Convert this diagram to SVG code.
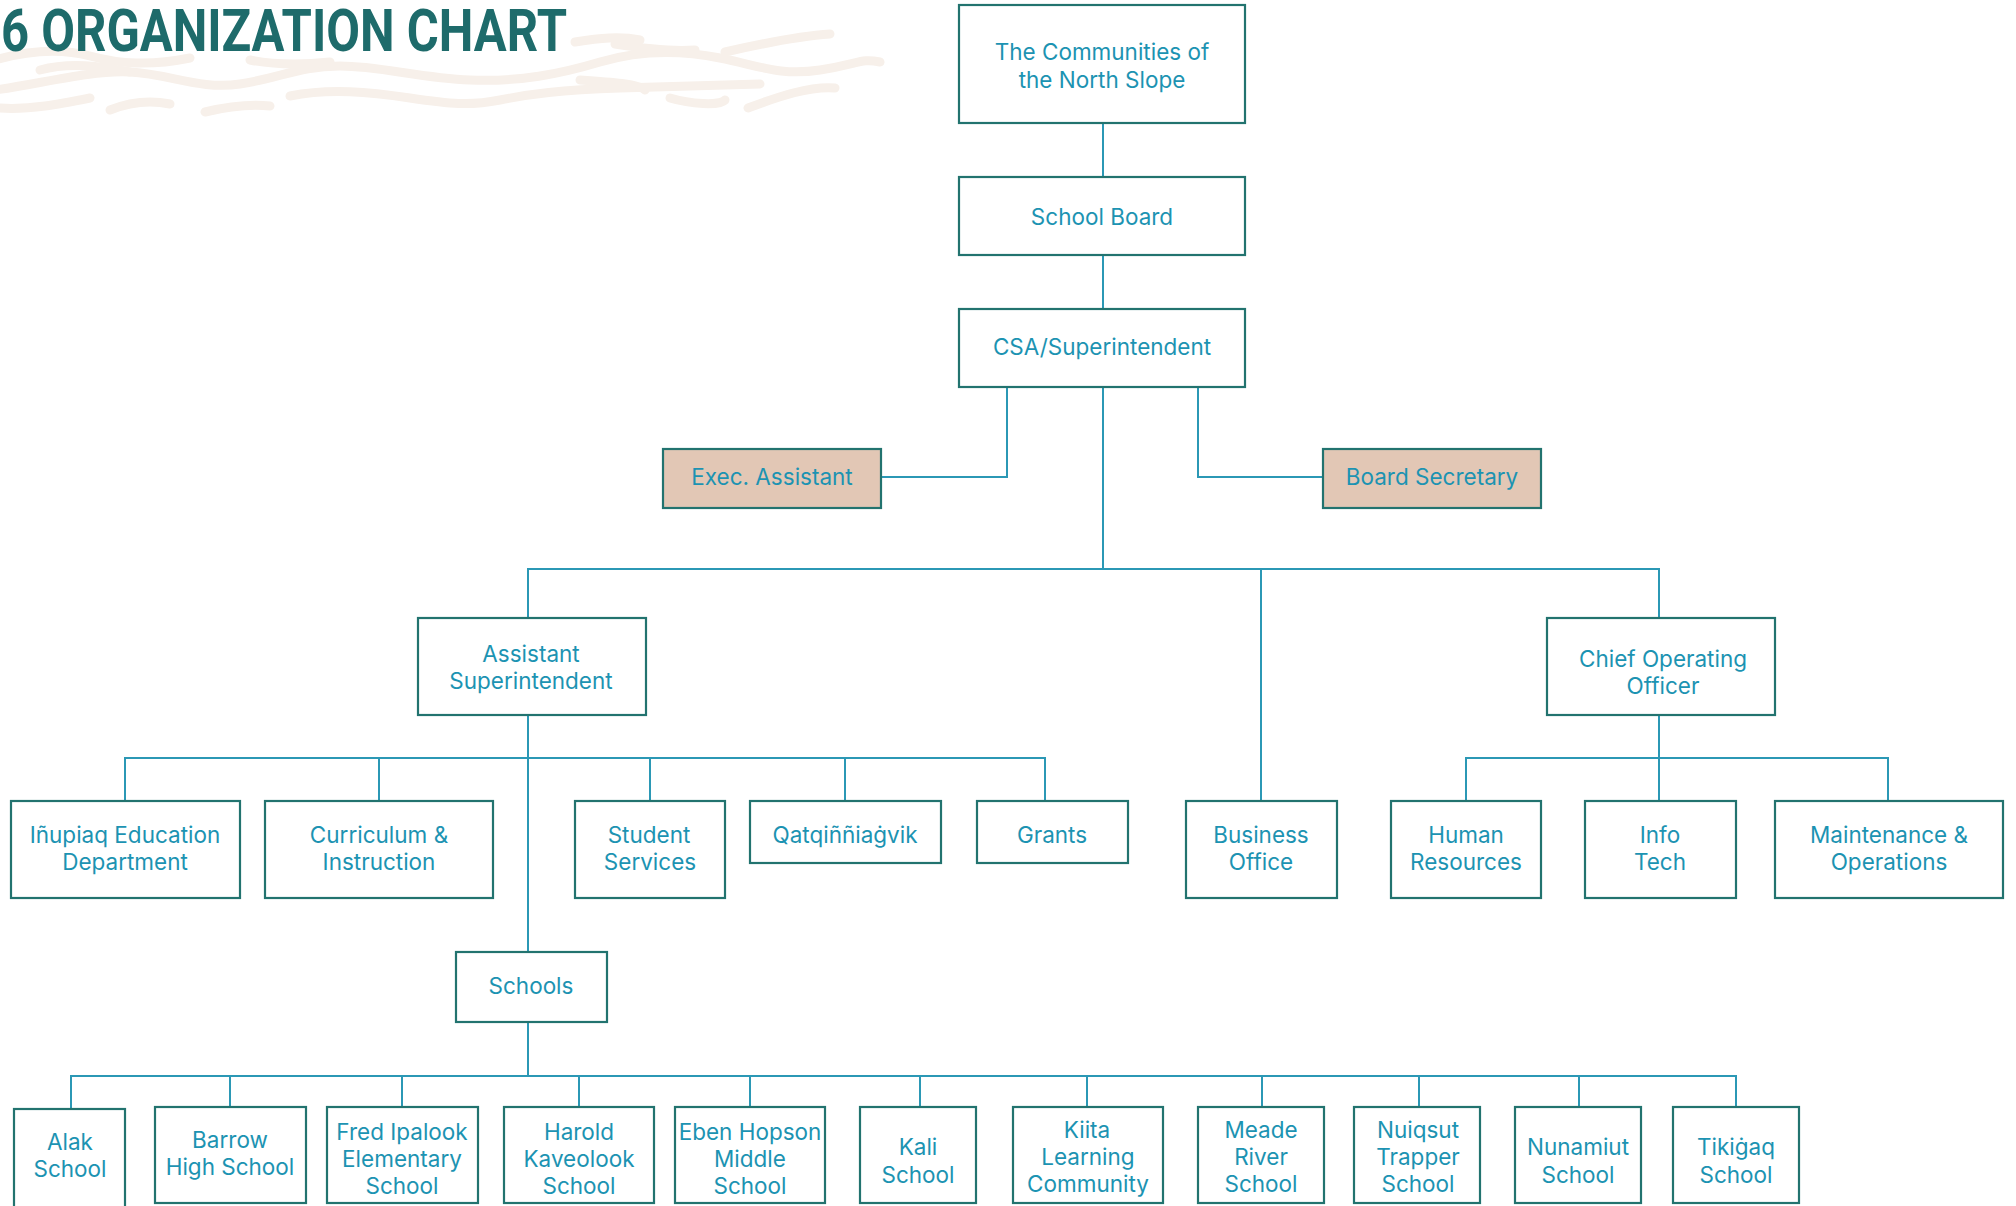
<svg xmlns="http://www.w3.org/2000/svg" width="2016" height="1206" viewBox="0 0 2016 1206">
<style>
.bx{fill:#ffffff;stroke:#22736f;stroke-width:2.2}
.tan{fill:#e2c7b5;stroke:#22736f;stroke-width:2.2}
.t{font-family:Inter,"Noto Sans","Liberation Sans",sans-serif;font-size:22.5px;fill:#1c93b2;text-anchor:middle}
.c{fill:none;stroke:#2b98b5;stroke-width:2}
.w{fill:none;stroke:#f7f0ea;stroke-width:9;stroke-linecap:round;stroke-linejoin:round}
</style>
<rect width="2016" height="1206" fill="#ffffff"/>
<g id="waves">
<path class="w" d="M-5 60 C30 50 60 48 90 56 S150 66 190 58"/>
<path class="w" d="M-5 90 C40 84 90 70 130 72 S200 90 240 84 S300 66 340 66 S420 78 470 80 S560 74 600 62 S680 50 720 58 S780 76 820 70 S860 58 880 62"/>
<path class="w" d="M0 108 C30 110 60 104 90 98"/>
<path class="w" d="M110 110 C130 102 150 100 170 104"/>
<path class="w" d="M205 112 C230 106 250 104 270 106"/>
<path class="w" d="M290 96 C330 88 370 92 410 98 S470 106 500 100 S560 90 620 88 S700 86 760 84"/>
<path class="w" d="M575 42 C600 38 620 36 640 40"/>
<path class="w" d="M615 44 C640 48 670 52 695 50"/>
<path class="w" d="M725 52 C760 44 800 36 830 34"/>
<path class="w" d="M580 80 C610 82 640 84 645 90"/>
<path class="w" d="M670 98 C690 104 720 106 725 100"/>
<path class="w" d="M748 108 C780 96 810 86 835 88"/>
<path class="w" d="M40 70 C70 62 100 66 130 72"/>
<path class="w" d="M250 60 C280 66 310 64 330 62"/>
</g>
<text x="1" y="51" font-family="Roboto,'Liberation Sans',sans-serif" font-weight="700" font-size="60" fill="#1e6b6b" textLength="566" lengthAdjust="spacingAndGlyphs">6 ORGANIZATION CHART</text>
<g id="connectors">
<path class="c" d="M1103 123V177M1103 255V309M1103 387V569"/>
<path class="c" d="M1007 387V477H881"/>
<path class="c" d="M1198 387V477H1323"/>
<path class="c" d="M528 618V569H1659V618M1261 569V801"/>
<path class="c" d="M528 715V952M125 801V758H1045V801M379 758V801M650 758V801M845 758V801"/>
<path class="c" d="M1659 715V801M1466 801V758H1888V801"/>
<path class="c" d="M528 1022V1076M71 1109V1076H1736V1107M230 1076V1107M402 1076V1107M579 1076V1107M750 1076V1107M920 1076V1107M1087 1076V1107M1262 1076V1107M1419 1076V1107M1579 1076V1107"/>
</g>
<g id="communities"><rect class="bx" x="959" y="5" width="286" height="118"/><text class="t" x="1102" y="60">The Communities of</text><text class="t" x="1102" y="88">the North Slope</text></g>
<g id="school-board"><rect class="bx" x="959" y="177" width="286" height="78"/><text class="t" x="1102" y="225">School Board</text></g>
<g id="csa"><rect class="bx" x="959" y="309" width="286" height="78"/><text class="t" x="1102" y="355">CSA/Superintendent</text></g>
<g id="exec-assistant"><rect class="tan" x="663" y="449" width="218" height="59"/><text class="t" x="772" y="485">Exec. Assistant</text></g>
<g id="board-secretary"><rect class="tan" x="1323" y="449" width="218" height="59"/><text class="t" x="1432" y="485">Board Secretary</text></g>
<g id="asst-supt"><rect class="bx" x="418" y="618" width="228" height="97"/><text class="t" x="531" y="662">Assistant</text><text class="t" x="531" y="689">Superintendent</text></g>
<g id="coo"><rect class="bx" x="1547" y="618" width="228" height="97"/><text class="t" x="1663" y="667">Chief Operating</text><text class="t" x="1663" y="694">Officer</text></g>
<g id="inupiaq"><rect class="bx" x="11" y="801" width="229" height="97"/><text class="t" x="125" y="843">Iñupiaq Education</text><text class="t" x="125" y="870">Department</text></g>
<g id="curriculum"><rect class="bx" x="265" y="801" width="228" height="97"/><text class="t" x="379" y="843">Curriculum &amp;</text><text class="t" x="379" y="870">Instruction</text></g>
<g id="student-services"><rect class="bx" x="575" y="801" width="150" height="97"/><text class="t" x="649" y="843">Student</text><text class="t" x="650" y="870">Services</text></g>
<g id="qatqinniagvik"><rect class="bx" x="750" y="801" width="191" height="62"/><text class="t" x="845" y="843">Qatqiññiaġvik</text></g>
<g id="grants"><rect class="bx" x="977" y="801" width="151" height="62"/><text class="t" x="1052" y="843">Grants</text></g>
<g id="business-office"><rect class="bx" x="1186" y="801" width="151" height="97"/><text class="t" x="1261" y="843">Business</text><text class="t" x="1261" y="870">Office</text></g>
<g id="hr"><rect class="bx" x="1391" y="801" width="150" height="97"/><text class="t" x="1466" y="843">Human</text><text class="t" x="1466" y="870">Resources</text></g>
<g id="info-tech"><rect class="bx" x="1585" y="801" width="151" height="97"/><text class="t" x="1660" y="843">Info</text><text class="t" x="1660" y="870">Tech</text></g>
<g id="maintenance"><rect class="bx" x="1775" y="801" width="228" height="97"/><text class="t" x="1889" y="843">Maintenance &amp;</text><text class="t" x="1889" y="870">Operations</text></g>
<g id="schools"><rect class="bx" x="456" y="952" width="151" height="70"/><text class="t" x="531" y="994">Schools</text></g>
<g id="alak"><rect class="bx" x="14" y="1109" width="111" height="100"/><text class="t" x="70" y="1150">Alak</text><text class="t" x="70" y="1177">School</text></g>
<g id="barrow"><rect class="bx" x="155" y="1107" width="151" height="96"/><text class="t" x="230" y="1148">Barrow</text><text class="t" x="230" y="1175">High School</text></g>
<g id="fred-ipalook"><rect class="bx" x="327" y="1107" width="151" height="96"/><text class="t" x="402" y="1140">Fred Ipalook</text><text class="t" x="402" y="1167">Elementary</text><text class="t" x="402" y="1194">School</text></g>
<g id="harold-kaveolook"><rect class="bx" x="504" y="1107" width="150" height="96"/><text class="t" x="579" y="1140">Harold</text><text class="t" x="579" y="1167">Kaveolook</text><text class="t" x="579" y="1194">School</text></g>
<g id="eben-hopson"><rect class="bx" x="675" y="1107" width="150" height="96"/><text class="t" x="750" y="1140">Eben Hopson</text><text class="t" x="750" y="1167">Middle</text><text class="t" x="750" y="1194">School</text></g>
<g id="kali"><rect class="bx" x="860" y="1107" width="116" height="96"/><text class="t" x="918" y="1155">Kali</text><text class="t" x="918" y="1183">School</text></g>
<g id="kiita"><rect class="bx" x="1013" y="1107" width="150" height="96"/><text class="t" x="1087" y="1138">Kiita</text><text class="t" x="1088" y="1165">Learning</text><text class="t" x="1088" y="1192">Community</text></g>
<g id="meade-river"><rect class="bx" x="1198" y="1107" width="126" height="96"/><text class="t" x="1261" y="1138">Meade</text><text class="t" x="1261" y="1165">River</text><text class="t" x="1261" y="1192">School</text></g>
<g id="nuiqsut"><rect class="bx" x="1354" y="1107" width="126" height="96"/><text class="t" x="1418" y="1138">Nuiqsut</text><text class="t" x="1418" y="1165">Trapper</text><text class="t" x="1418" y="1192">School</text></g>
<g id="nunamiut"><rect class="bx" x="1515" y="1107" width="126" height="96"/><text class="t" x="1578" y="1155">Nunamiut</text><text class="t" x="1578" y="1183">School</text></g>
<g id="tikigaq"><rect class="bx" x="1673" y="1107" width="126" height="96"/><text class="t" x="1736" y="1155">Tikiġaq</text><text class="t" x="1736" y="1183">School</text></g>
</svg>
